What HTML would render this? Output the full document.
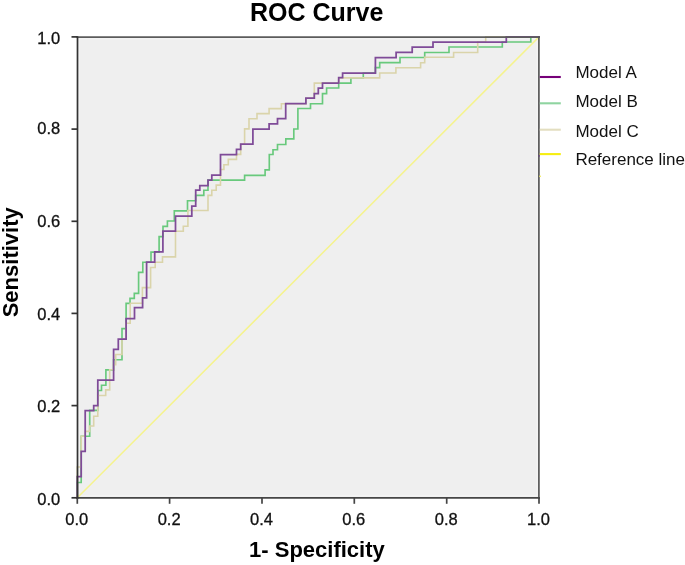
<!DOCTYPE html>
<html><head><meta charset="utf-8"><style>
html,body{margin:0;padding:0;background:#fff;}
svg{display:block;will-change:transform;}
text{font-family:"Liberation Sans",sans-serif;}
</style></head><body>
<svg width="685" height="565" viewBox="0 0 685 565">
<rect x="0" y="0" width="685" height="565" fill="#ffffff"/>
<rect x="77.3" y="36.9" width="461.7" height="460.9" fill="#efefef"/>
<rect x="79.2" y="38.8" width="457.9" height="457.1" fill="none" stroke="#f6f6f6" stroke-width="1"/>
<line x1="77.3" y1="497.8" x2="539.0" y2="36.9" stroke="#f5f38e" stroke-width="1.5"/>
<g fill="none" stroke-linejoin="miter" stroke-linecap="square">
<path d="M77.3,497.8V482.5H81.2V436.2H89.7V410.4H97.8V390.5H101.5V385.2H105.9V369.8H113.6V359.7H122.0V328.6H126.1V303.3H130.0V298.3H134.3V293.3H138.6V272.3H142.8V262.2H151.0V252.1H159.1V236.6H163.0V226.3H167.4V221.0H174.3V210.9H187.5V200.7H195.7V195.4H203.8V190.2H208.0V180.1H244.6V175.3H265.1V169.8H269.3V154.5H273.0V149.7H277.5V144.5H285.8V138.8H293.8V129.0H297.9V108.5H310.5V103.7H322.5V93.6H326.6V88.0H338.7V83.1H350.9V77.9H363.3V73.0H375.4V67.6H379.7V62.6H400.0V57.5H424.7V52.5H449.0V47.0H502.3V42.0H530.8V36.9H539.0" stroke="#68c97c" stroke-width="1.65"/>
<path d="M77.3,497.8V467.0H81.2V436.2H85.2V431.4H89.6V426.0H93.7V416.3H97.8V395.5H105.7V389.9H109.7V369.8H113.6V364.8H115.7V354.5H122.0V339.0H126.1V323.3H130.2V303.3H142.4V287.6H150.6V267.5H155.2V262.2H162.5V256.9H175.5V231.3H183.3V226.2H187.9V210.5H208.0V195.4H211.8V190.2H216.2V185.1H220.5V169.5H223.9V164.7H228.3V159.4H236.5V154.4H240.7V144.2H244.6V128.9H249.0V118.8H257.0V113.6H269.1V108.6H281.4V103.7H305.9V98.2H314.3V83.1H338.7V77.9H379.7V73.0H395.9V67.7H420.6V62.8H424.7V57.3H453.6V52.5H477.7V42.0H485.7V36.9H539.0" stroke="#dad4aa" stroke-width="1.6"/>
<path d="M77.3,497.8V476.5H81.2V451.3H85.2V410.5H93.7V405.5H97.8V380.0H113.6V349.3H118.3V339.0H126.1V318.6H134.5V307.7H142.6V297.9H146.6V262.2H154.7V251.9H162.9V231.2H175.5V216.1H191.8V206.0H195.7V190.2H199.8V185.6H208.0V180.1H211.8V175.1H220.5V154.5H236.5V149.4H240.7V144.2H252.9V129.1H269.1V123.9H277.5V118.7H285.7V103.7H305.9V98.2H314.3V93.6H318.3V88.0H322.5V83.1H338.7V77.7H342.6V73.0H375.4V57.5H396.1V52.4H412.2V47.2H433.0V42.0H506.3V36.9H539.0" stroke="#7f4b98" stroke-width="1.75"/>
</g>
<g stroke-width="1.7" fill="none" stroke-linecap="square">
<line x1="77.3" y1="37.1" x2="539.0" y2="37.1" stroke="#5c5c5c"/>
<line x1="538.9" y1="37.1" x2="538.9" y2="497.8" stroke="#585858"/>
<line x1="77.3" y1="497.8" x2="539.0" y2="497.8" stroke="#464646"/>
<line x1="77.5" y1="37.1" x2="77.5" y2="497.8" stroke="#333"/>
</g>
<g stroke-width="1.7" fill="none">
<line x1="77.3" y1="497.8" x2="77.3" y2="503.8" stroke="#444"/><line x1="71.5" y1="497.8" x2="77.3" y2="497.8" stroke="#333"/><line x1="169.6" y1="497.8" x2="169.6" y2="503.8" stroke="#444"/><line x1="71.5" y1="405.6" x2="77.3" y2="405.6" stroke="#333"/><line x1="262.0" y1="497.8" x2="262.0" y2="503.8" stroke="#444"/><line x1="71.5" y1="313.4" x2="77.3" y2="313.4" stroke="#333"/><line x1="354.3" y1="497.8" x2="354.3" y2="503.8" stroke="#444"/><line x1="71.5" y1="221.3" x2="77.3" y2="221.3" stroke="#333"/><line x1="446.7" y1="497.8" x2="446.7" y2="503.8" stroke="#444"/><line x1="71.5" y1="129.1" x2="77.3" y2="129.1" stroke="#333"/><line x1="539.0" y1="497.8" x2="539.0" y2="503.8" stroke="#444"/><line x1="71.5" y1="36.9" x2="77.3" y2="36.9" stroke="#333"/>
</g>
<g font-size="16.5" fill="#111" stroke="#111" stroke-width="0.3">
<text x="76.8" y="524.9" text-anchor="middle">0.0</text><text x="60.3" y="505.2" text-anchor="end">0.0</text><text x="169.1" y="524.9" text-anchor="middle">0.2</text><text x="60.3" y="411.9" text-anchor="end">0.2</text><text x="261.5" y="524.9" text-anchor="middle">0.4</text><text x="60.3" y="320.0" text-anchor="end">0.4</text><text x="353.8" y="524.9" text-anchor="middle">0.6</text><text x="60.3" y="226.9" text-anchor="end">0.6</text><text x="446.2" y="524.9" text-anchor="middle">0.8</text><text x="60.3" y="134.3" text-anchor="end">0.8</text><text x="538.5" y="524.9" text-anchor="middle">1.0</text><text x="60.3" y="43.6" text-anchor="end">1.0</text>
</g>
<text x="316.7" y="20.5" text-anchor="middle" font-size="25" font-weight="bold" fill="#000">ROC Curve</text>
<text x="316.9" y="557.4" text-anchor="middle" font-size="22" font-weight="bold" fill="#000">1- Specificity</text>
<text transform="translate(17.7,262.3) rotate(-90)" text-anchor="middle" font-size="22" font-weight="bold" fill="#000">Sensitivity</text>
<g stroke-width="2.1">
<line x1="539.8" y1="77.0" x2="560.8" y2="77.0" stroke="#760078"/>
<line x1="539.8" y1="103.3" x2="560.8" y2="103.3" stroke="#8fd4a0"/>
<line x1="539.8" y1="129.7" x2="560.8" y2="129.7" stroke="#e3dec0"/>
<line x1="539.8" y1="154.1" x2="560.8" y2="154.1" stroke="#f6ee10"/>
</g>
<rect x="539.3" y="175.6" width="1.6" height="1.4" fill="#f0ec60"/>
<rect x="538.4" y="155.2" width="1.3" height="1.4" fill="#6a3a80"/>
<g font-size="17" fill="#111">
<text x="575.4" y="78.4">Model A</text>
<text x="575.4" y="107.1">Model B</text>
<text x="575.4" y="136.7">Model C</text>
<text x="575.4" y="164.7">Reference line</text>
</g>
</svg>
</body></html>
